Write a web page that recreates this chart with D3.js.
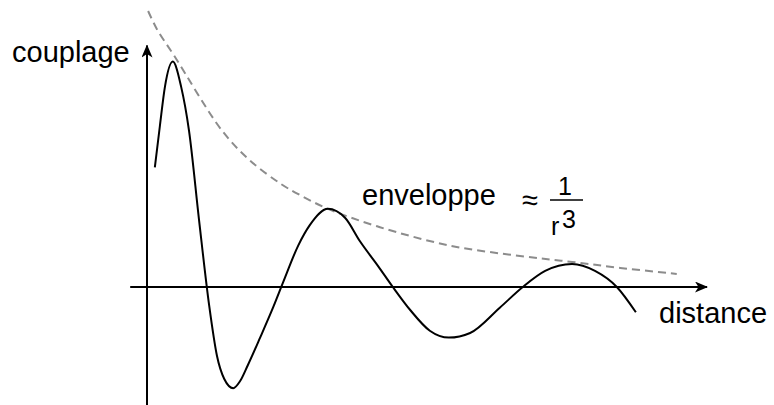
<!DOCTYPE html>
<html lang="fr">
<head>
<meta charset="UTF-8">
<title>couplage</title>
<script src="https://cdn.jsdelivr.net/npm/d3@7"></script>
<style>
body { margin: 0; background: #fff; }
text { font-family: 'Liberation Sans', Arial, sans-serif; fill: #000; }
</style>
</head>
<body>
<svg class="container"></svg>
<script>
// oscillating coupling curve (distance, coupling)
const curveX = [0.14, 0.23, 0.32, 0.46, 0.61, 0.75, 0.93, 1.11, 1.25, 1.38, 1.54, 1.66, 1.80, 2.02, 2.25, 2.43, 2.70, 2.91, 3.23, 3.54, 3.80, 4.13, 4.39, 4.70, 5.05, 5.39, 5.77, 6.30, 6.71, 7.11, 7.59, 8.00, 8.39, 8.73];
const curveY = [0.52, 0.70, 0.87, 0.98, 0.87, 0.68, 0.29, -0.08, -0.30, -0.40, -0.44, -0.41, -0.34, -0.22, -0.09, 0.02, 0.18, 0.27, 0.34, 0.30, 0.20, 0.09, 0.00, -0.10, -0.19, -0.22, -0.20, -0.09, 0.00, 0.07, 0.10, 0.07, 0.00, -0.11];

// dashed envelope ~ 1/r^3
const envX = [0.02, 0.18, 0.50, 1.34, 1.84, 2.38, 2.73, 3.23, 4.16, 5.41, 6.66, 7.59, 8.45, 9.46];
const envY = [1.20, 1.12, 1.00, 0.68, 0.55, 0.45, 0.40, 0.34, 0.26, 0.18, 0.135, 0.109, 0.083, 0.057];

// axis extents
const xAxisExtent = [-0.30, 10];
const yAxisExtent = [-0.52, 1.05];

const width = 774, height = 405;

const svg = d3.select('svg.container')
    .attr('width', width)
    .attr('height', height);

// 0 -> 147px, 10 -> 707px ; 0 -> 287px, 1 -> 57px
const x = d3.scaleLinear().domain([0, 10]).range([147, 707]);
const y = d3.scaleLinear().domain([-0.5, 1]).range([402, 57]);

const defs = svg.append('defs');
defs.append('marker')
    .attr('id', 'arrow')
    .attr('viewBox', '0 0 13 11')
    .attr('refX', 12)
    .attr('refY', 5.5)
    .attr('markerWidth', 13)
    .attr('markerHeight', 11)
    .attr('markerUnits', 'userSpaceOnUse')
    .attr('orient', 'auto')
    .append('path')
    .attr('d', 'M0,0 L13,5.5 L0,11 L3.5,5.5 Z')
    .attr('fill', '#000');

// axes
svg.append('line')
    .attr('x1', x(xAxisExtent[0])).attr('y1', y(0))
    .attr('x2', x(xAxisExtent[1])).attr('y2', y(0))
    .attr('stroke', '#000').attr('stroke-width', 2)
    .attr('marker-end', 'url(#arrow)');

svg.append('line')
    .attr('x1', x(0)).attr('y1', y(yAxisExtent[0]))
    .attr('x2', x(0)).attr('y2', y(yAxisExtent[1]))
    .attr('stroke', '#000').attr('stroke-width', 2)
    .attr('marker-end', 'url(#arrow)');

// envelope
const envData = envX.map((d, i) => [d, envY[i]]);
svg.append('path')
    .datum(envData)
    .attr('fill', 'none')
    .attr('stroke', '#8c8c8c')
    .attr('stroke-width', 2)
    .attr('stroke-dasharray', '8,5')
    .attr('d', d3.line().x(d => x(d[0])).y(d => y(d[1])).curve(d3.curveCatmullRom.alpha(0.5)));

// coupling curve
const curveData = curveX.map((d, i) => [d, curveY[i]]);
svg.append('path')
    .datum(curveData)
    .attr('fill', 'none')
    .attr('stroke', '#000')
    .attr('stroke-width', 2)
    .attr('d', d3.line().x(d => x(d[0])).y(d => y(d[1])).curve(d3.curveMonotoneX));

// labels
const fs = '29px';
svg.append('text').attr('x', 12).attr('y', 62).style('font-size', fs).text('couplage');
svg.append('text').attr('x', 659).attr('y', 323).style('font-size', fs).text('distance');
svg.append('text').attr('x', 362).attr('y', 205).style('font-size', fs).text('enveloppe');

svg.append('text').attr('x', 522).attr('y', 210).style('font-size', '29px').text('≈');
svg.append('line')
    .attr('x1', 550).attr('x2', 583).attr('y1', 200).attr('y2', 200)
    .attr('stroke', '#000').attr('stroke-width', 1.5);
svg.append('text').attr('x', 558).attr('y', 195).style('font-size', '25px').text('1');
svg.append('text').attr('x', 551).attr('y', 235).style('font-size', '25px').text('r');
svg.append('text').attr('x', 562).attr('y', 228).style('font-size', '25px').text('3');
</script>
</body>
</html>
